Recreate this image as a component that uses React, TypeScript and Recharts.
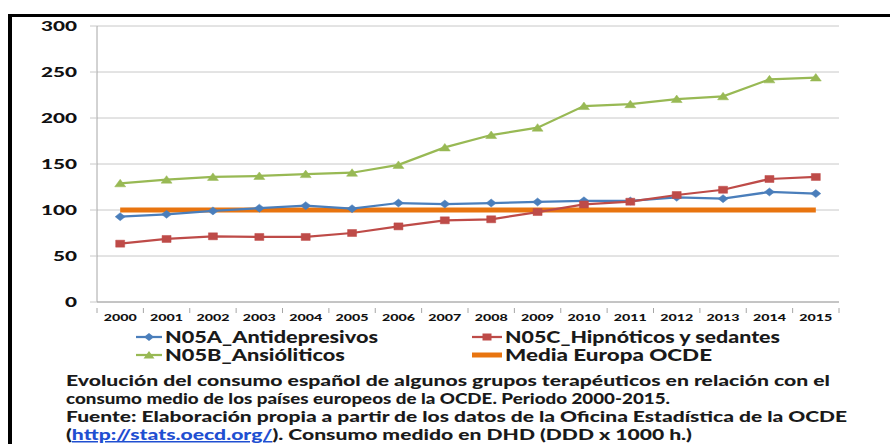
import React from 'react';
import { LineChart, Line, XAxis, YAxis, CartesianGrid, Legend } from 'recharts';

const years = ['2000', '2001', '2002', '2003', '2004', '2005', '2006', '2007', '2008', '2009', '2010', '2011', '2012', '2013', '2014', '2015'];
const antidepresivos = [92.7, 95.3, 99, 102, 104.7, 101.4, 107.6, 106.5, 107.6, 108.7, 110, 109.8, 113.8, 112.3, 119.6, 117.8];
const hipnoticos = [63.4, 68.5, 71.4, 70.7, 70.7, 75, 82.2, 88.8, 89.9, 97.8, 106, 109, 116.3, 122, 133.7, 135.9];
const ansioliticos = [129, 133, 136, 137, 139, 140.5, 149, 168, 181.5, 189.5, 213, 215, 220.6, 223.6, 242, 244];
const mediaOCDE = [100, 100, 100, 100, 100, 100, 100, 100, 100, 100, 100, 100, 100, 100, 100, 100];
const yTicks = [0, 50, 100, 150, 200, 250, 300];

const seriesNames = {
  a: 'N05A_Antidepresivos',
  c: 'N05C_Hipnóticos y sedantes',
  b: 'N05B_Ansióliticos',
  m: 'Media Europa OCDE',
};

const captionLines = [
  'Evolución del consumo español de algunos grupos terapéuticos en relación con el',
  'consumo medio de los países europeos de la OCDE. Periodo 2000-2015.',
  'Fuente: Elaboración propia a partir de los datos de la Oficina Estadística de la OCDE',
];
const captionLink = 'http://stats.oecd.org/';
const captionTail = '). Consumo medido en DHD (DDD x 1000 h.)';

const data = years.map((y, i) => ({
  year: y,
  a: antidepresivos[i],
  c: hipnoticos[i],
  b: ansioliticos[i],
  m: mediaOCDE[i],
}));

const BLUE = '#4a7ebb';
const RED = '#be4b48';
const GREEN = '#98b954';
const ORANGE = '#e8740f';
const FONT = 'Lato, "Open Sans", sans-serif';

const diamondPath = (cx: number, cy: number) => `M${cx - 5},${cy} L${cx},${cy - 4} L${cx + 5},${cy} L${cx},${cy + 4} Z`;
const squarePath = (cx: number, cy: number) => `M${cx - 4.5},${cy - 3.5} h9 v7 h-9 Z`;
const trianglePath = (cx: number, cy: number) => `M${cx - 5.5},${cy + 3.5} L${cx},${cy - 4} L${cx + 5.5},${cy + 3.5} Z`;

const makeDot = (shape: (x: number, y: number) => string, color: string) => (props: any) => {
  const { cx, cy, index } = props;
  if (cx == null || cy == null) return <g key={`d-${index}`} />;
  return <path key={`d-${index}`} d={shape(cx, cy)} fill={color} stroke={color} strokeWidth={0.5} />;
};

const YTick = (props: any) => {
  const { x, y, payload } = props;
  const s = String(payload.value);
  return (
    <text x={x} y={y} dy={4.5} textAnchor="end" fontFamily={FONT} fontWeight={900} fontSize={13} fill="#111"
      textLength={12 * s.length} lengthAdjust="spacingAndGlyphs">
      {s}
    </text>
  );
};

const XTick = (props: any) => {
  const { x, y, payload, index, width, visibleTicksCount } = props;
  const half = payload && payload.offset ? payload.offset : (width && visibleTicksCount ? width / visibleTicksCount / 2 : 0);
  const axisY = y - 2;
  return (
    <g>
      <line x1={x - half} x2={x - half} y1={axisY} y2={axisY + 5} stroke="#a6a6a6" />
      {index === years.length - 1 && <line x1={x + half} x2={x + half} y1={axisY} y2={axisY + 5} stroke="#a6a6a6" />}
      <text x={x} y={axisY} dy={12.5} textAnchor="middle" fontFamily={FONT} fontWeight={900} fontSize={10} fill="#111"
        textLength={33} lengthAdjust="spacingAndGlyphs">
        {payload.value}
      </text>
    </g>
  );
};

const legendLayout: Record<string, { lx: number; tx: number; ty: number; tw: number }> = {
  a: { lx: 136, tx: 165, ty: 337, tw: 213 },
  c: { lx: 472, tx: 505, ty: 337, tw: 275 },
  b: { lx: 136, tx: 165, ty: 355, tw: 180 },
  m: { lx: 472, tx: 505, ty: 355, tw: 207 },
};

const LegendContent = (props: any) => {
  const { payload } = props;
  return (
    <svg width={890} height={60} style={{ position: 'absolute', left: 0, top: 0, overflow: 'visible' }}>
      {(payload || []).map((p: any) => {
        const key = p.dataKey as string;
        const L = legendLayout[key];
        if (!L) return null;
        const color = p.color;
        const lineW = key === 'm' ? 5 : 2.25;
        const mid = (L.lx + L.tx - 3) / 2;
        const yy = L.ty;
        let marker = null;
        if (key === 'a') marker = <path d={diamondPath(mid, yy)} fill={color} />;
        if (key === 'c') marker = <path d={squarePath(mid, yy)} fill={color} />;
        if (key === 'b') marker = <path d={trianglePath(mid, yy)} fill={color} />;
        return (
          <g key={key}>
            <line x1={L.lx} x2={L.tx - 3} y1={yy} y2={yy} stroke={color} strokeWidth={lineW} />
            {marker}
            <text x={L.tx} y={yy} dy={5.5} fontFamily={FONT} fontWeight={900} fontSize={16} fill="#1a1a1a"
              textLength={L.tw} lengthAdjust="spacingAndGlyphs">
              {p.value}
            </text>
          </g>
        );
      })}
    </svg>
  );
};

export default function App() {
  return (
    <div style={{ position: 'absolute', left: 0, top: 0, width: 890, height: 444, background: '#fff', overflow: 'hidden' }}>
      <div style={{ position: 'absolute', left: 8, top: 14, width: 882, height: 3, background: '#000' }} />
      <div style={{ position: 'absolute', left: 8, top: 14, width: 4, height: 430, background: '#000' }} />
      <div style={{ position: 'absolute', left: 0, top: 0 }}>
        <LineChart width={890} height={444} data={data} margin={{ top: 26, right: 51, left: 30, bottom: 122 }}>
          <CartesianGrid horizontal={true} vertical={false} stroke="#c8c8c8" strokeWidth={1} />
          <XAxis dataKey="year" scale="band" tickLine={false} axisLine={{ stroke: '#a6a6a6' }} tick={<XTick />} interval={0} height={20} />
          <YAxis domain={[0, 300]} ticks={yTicks} width={67} tickSize={7} tickMargin={13}
            tickLine={{ stroke: '#c8c8c8' }} axisLine={{ stroke: '#a6a6a6' }} tick={<YTick />} interval={0} />
          <Line dataKey="m" name={seriesNames.m} stroke={ORANGE} strokeWidth={5} dot={false} isAnimationActive={false} legendType="line" />
          <Line dataKey="a" name={seriesNames.a} stroke={BLUE} strokeWidth={2.25} dot={makeDot(diamondPath, BLUE)} isAnimationActive={false} />
          <Line dataKey="c" name={seriesNames.c} stroke={RED} strokeWidth={2.25} dot={makeDot(squarePath, RED)} isAnimationActive={false} />
          <Line dataKey="b" name={seriesNames.b} stroke={GREEN} strokeWidth={2.25} dot={makeDot(trianglePath, GREEN)} isAnimationActive={false} />
          <Legend content={<LegendContent />} wrapperStyle={{ position: 'absolute', left: 0, top: 0, width: 890, height: 0 }} />
        </LineChart>
      </div>
      <svg width={890} height={444} style={{ position: 'absolute', left: 0, top: 0, pointerEvents: 'none' }}>
        {captionLines.map((line, i) => (
          <text key={i} x={66} y={386 + i * 18} fontFamily={FONT} fontWeight={900} fontSize={15} fill="#1a1a1a"
            textLength={[764, 604, 781][i]} lengthAdjust="spacingAndGlyphs">
            {line}
          </text>
        ))}
        <text x={66} y={440} fontFamily={FONT} fontWeight={900} fontSize={15} fill="#1a1a1a" textLength={626} lengthAdjust="spacingAndGlyphs">
          (<tspan fill="#1f4fd1" textDecoration="underline">{captionLink}</tspan>{captionTail}
        </text>
      </svg>
    </div>
  );
}
